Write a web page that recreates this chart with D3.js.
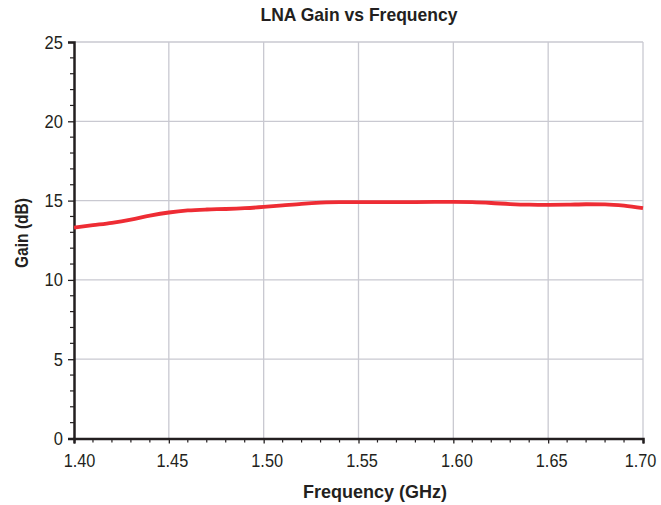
<!DOCTYPE html>
<html>
<head>
<meta charset="utf-8">
<script src="https://cdn.jsdelivr.net/npm/d3@7"></script>
<style>
  body { margin: 0; background: #fff; }
  text { font-family: "Liberation Sans Narrow", "Liberation Sans", sans-serif; fill: #231f20; }
</style>
</head>
<body>
<div id="chart"></div>
<script>
const freqs = [1.40, 1.41, 1.42, 1.43, 1.44, 1.45, 1.46, 1.47, 1.48, 1.49, 1.50,
               1.51, 1.52, 1.53, 1.54, 1.55, 1.56, 1.57, 1.58, 1.59, 1.60,
               1.61, 1.62, 1.63, 1.64, 1.65, 1.66, 1.67, 1.68, 1.69, 1.70];
const gains = [13.30, 13.45, 13.60, 13.80, 14.05, 14.25, 14.38, 14.44, 14.47, 14.52, 14.60,
               14.70, 14.80, 14.87, 14.90, 14.90, 14.90, 14.90, 14.91, 14.92, 14.92,
               14.90, 14.85, 14.78, 14.74, 14.73, 14.74, 14.77, 14.76, 14.68, 14.52];
const xTicks = [1.40, 1.45, 1.50, 1.55, 1.60, 1.65, 1.70];
const yTicks = [0, 5, 10, 15, 20, 25];

const W = 661, H = 505;
const margin = { top: 42, right: 18, bottom: 66.5, left: 74 };
const width = W - margin.left - margin.right;
const height = H - margin.top - margin.bottom;

// squeeze text to look like the condensed face in the original
function narrow(sel, perChar) {
    sel.each(function () {
        const t = d3.select(this);
        const s = t.text();
        let w = 0;
        for (const c of s) w += (c === "." ? 0.45 : 1) * perChar;
        t.attr("textLength", w).attr("lengthAdjust", "spacingAndGlyphs");
    });
}

const svg = d3.select("#chart").append("svg")
    .attr("width", W)
    .attr("height", H);

const g = svg.append("g")
    .attr("transform", `translate(${margin.left},${margin.top})`);

const x = d3.scaleLinear().domain([1.40, 1.70]).range([0, width]);
const y = d3.scaleLinear().domain([0, 25]).range([height, 0]);

// gridlines
g.append("g").selectAll("line")
    .data(xTicks.slice(1))
    .enter().append("line")
    .attr("x1", d => x(d)).attr("x2", d => x(d))
    .attr("y1", 0).attr("y2", height)
    .attr("stroke", "#c9c9d1").attr("stroke-width", 1.3);

g.append("g").selectAll("line")
    .data(yTicks.slice(1))
    .enter().append("line")
    .attr("x1", 0).attr("x2", width)
    .attr("y1", d => y(d)).attr("y2", d => y(d))
    .attr("stroke", "#c9c9d1").attr("stroke-width", 1.3);

// minor ticks
const xMinor = d3.range(0, 31).map(i => 1.40 + i * 0.01).filter((d, i) => i % 5 !== 0);
const yMinor = d3.range(0, 26).filter(d => d % 5 !== 0);

g.append("g").selectAll("line")
    .data(xMinor)
    .enter().append("line")
    .attr("x1", d => x(d)).attr("x2", d => x(d))
    .attr("y1", height).attr("y2", height + 4)
    .attr("stroke", "#231f20").attr("stroke-width", 1.2);

g.append("g").selectAll("line")
    .data(yMinor)
    .enter().append("line")
    .attr("x1", -4).attr("x2", 0)
    .attr("y1", d => y(d)).attr("y2", d => y(d))
    .attr("stroke", "#231f20").attr("stroke-width", 1.2);

// axes
const xAxis = g.append("g")
    .attr("transform", `translate(0,${height})`)
    .call(d3.axisBottom(x).tickValues(xTicks).tickFormat(d3.format(".2f")).tickSize(5).tickPadding(10));
const yAxis = g.append("g")
    .call(d3.axisLeft(y).tickValues(yTicks).tickSize(6).tickPadding(5));

[xAxis, yAxis].forEach(a => {
    a.select(".domain").attr("stroke", "#231f20").attr("stroke-width", 2.5);
    a.selectAll(".tick line").attr("stroke", "#231f20").attr("stroke-width", 1.3);
    a.selectAll("text")
        .style("font-size", "19px")
        .style("font-family", "'Liberation Sans Narrow', 'Liberation Sans', sans-serif")
        .attr("fill", "#231f20")
        .call(narrow, 9.2);
});

// keep the end labels inside the frame, as in the original
xAxis.selectAll(".tick text")
    .attr("dx", (d, i, n) => i === 0 ? 5 : (i === n.length - 1 ? -3 : 3));

// data line
const line = d3.line()
    .x((d, i) => x(freqs[i]))
    .y(d => y(d))
    .curve(d3.curveMonotoneX);

g.append("path")
    .datum(gains)
    .attr("d", line)
    .attr("fill", "none")
    .attr("stroke", "#ee2c34")
    .attr("stroke-width", 3.8);

// title and axis labels
svg.append("text")
    .attr("x", 359)
    .attr("y", 21)
    .attr("text-anchor", "middle")
    .style("font-size", "19px")
    .style("font-weight", "bold")
    .attr("textLength", 197)
    .attr("lengthAdjust", "spacingAndGlyphs")
    .text("LNA Gain vs Frequency");

svg.append("text")
    .attr("x", 375)
    .attr("y", 498)
    .attr("text-anchor", "middle")
    .style("font-size", "19px")
    .style("font-weight", "bold")
    .attr("textLength", 144)
    .attr("lengthAdjust", "spacingAndGlyphs")
    .text("Frequency (GHz)");

svg.append("text")
    .attr("transform", "translate(28,233) rotate(-90)")
    .attr("text-anchor", "middle")
    .style("font-size", "19px")
    .style("font-weight", "bold")
    .attr("textLength", 70)
    .attr("lengthAdjust", "spacingAndGlyphs")
    .text("Gain (dB)");
</script>
</body>
</html>
